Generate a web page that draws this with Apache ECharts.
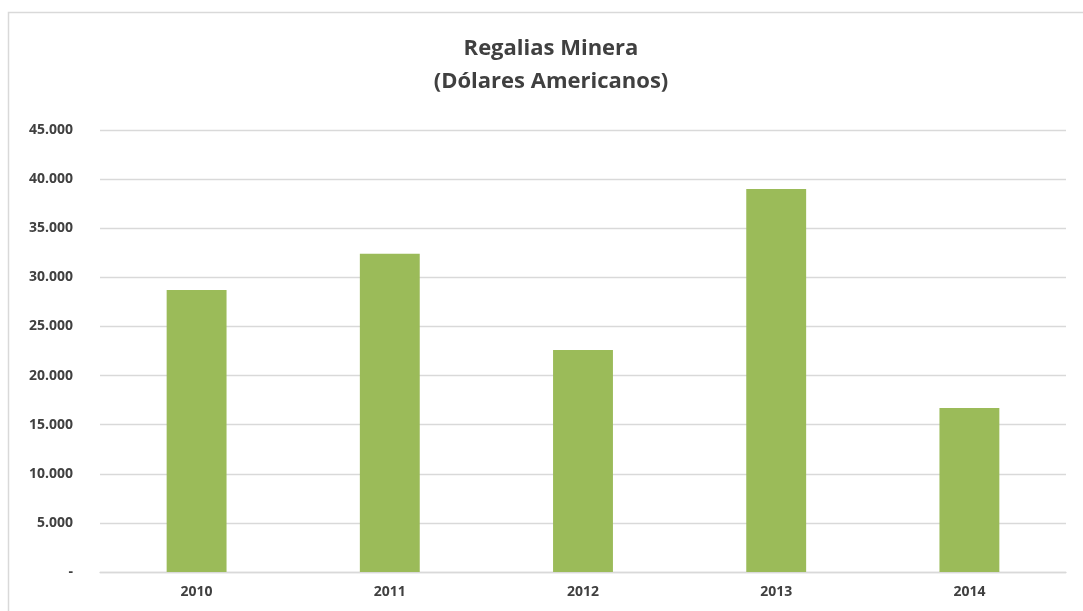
<!DOCTYPE html>
<html>
<head>
<meta charset="utf-8">
<script src="https://cdn.jsdelivr.net/npm/echarts@6/dist/echarts.min.js"></script>
<style>
html,body{margin:0;padding:0;background:#fff;}
#chart{width:1083px;height:611px;}
</style>
</head>
<body>
<div id="chart"></div>
<script>
const categories = ['2010', '2011', '2012', '2013', '2014'];
const values = [28700, 32400, 22600, 39000, 16700];
const titleText = 'Regalias Minera\n(Dólares Americanos)';

function fmt(v) {
  if (v === 0) return '-';
  return String(v).replace(/\B(?=(\d{3})+(?!\d))/g, '.');
}

const chart = echarts.init(document.getElementById('chart'), null, {renderer: 'canvas'});
chart.setOption({
  animation: false,
  backgroundColor: '#ffffff',
  graphic: [{
    type: 'rect',
    silent: true,
    shape: {x: 8.5, y: 12.5, width: 1200, height: 800},
    style: {fill: 'none', stroke: '#d9d9d9', lineWidth: 1.5}
  }],
  title: {
    text: titleText,
    left: 546,
    textAlign: 'center',
    top: 27,
    textStyle: {
      fontFamily: 'Open Sans',
      fontWeight: 'bold',
      fontSize: 22,
      lineHeight: 33,
      color: '#404040'
    }
  },
  grid: {left: 100, right: 17, top: 130, bottom: 39, containLabel: false},
  xAxis: {
    type: 'category',
    data: categories,
    axisLine: {lineStyle: {color: '#d9d9d9', width: 1.3}},
    axisTick: {show: false},
    axisLabel: {
      margin: 13,
      fontFamily: 'Open Sans',
      fontWeight: 'bold',
      fontSize: 14,
      color: '#404040'
    }
  },
  yAxis: {
    type: 'value',
    min: 0,
    max: 45000,
    interval: 5000,
    axisLine: {show: false},
    axisTick: {show: false},
    splitLine: {lineStyle: {color: '#d9d9d9', width: 1.3}},
    axisLabel: {
      margin: 27,
      fontFamily: 'Open Sans',
      fontWeight: 'bold',
      fontSize: 14,
      color: '#404040',
      formatter: fmt
    }
  },
  series: [{
    type: 'bar',
    data: values,
    barWidth: '31%',
    itemStyle: {color: '#9BBB59'}
  }]
});
</script>
</body>
</html>
